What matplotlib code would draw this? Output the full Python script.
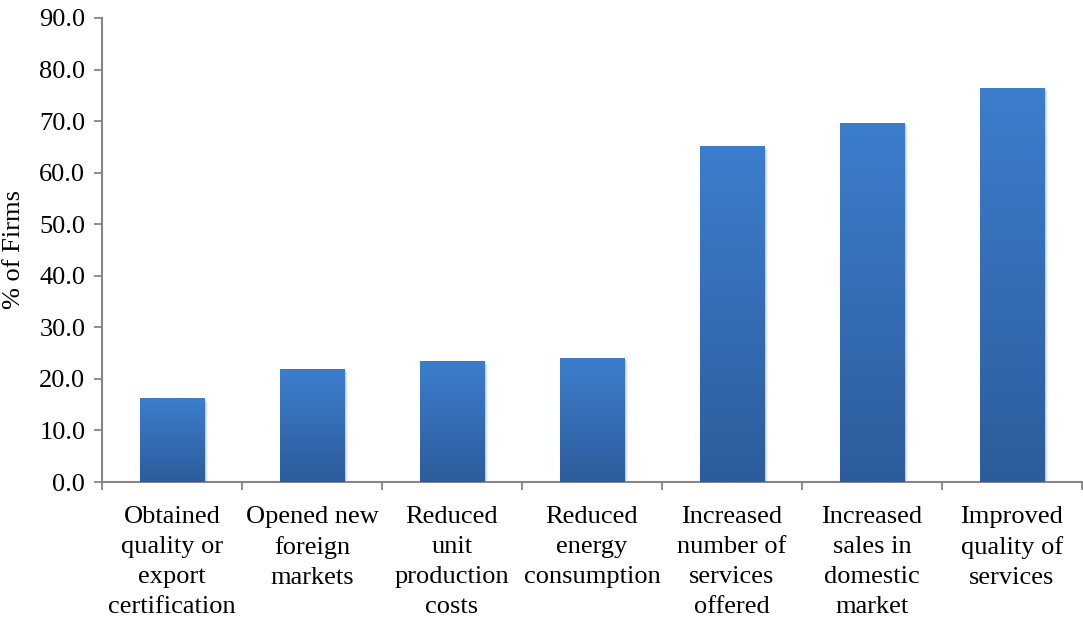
import numpy as np
import matplotlib
matplotlib.use("Agg")
import matplotlib.pyplot as plt
from matplotlib import transforms
from matplotlib.colors import LinearSegmentedColormap

categories = [
    "Obtained\nquality or\nexport\ncertification",
    "Opened new\nforeign\nmarkets",
    "Reduced\nunit\nproduction\ncosts",
    "Reduced\nenergy\nconsumption",
    "Increased\nnumber of\nservices\noffered",
    "Increased\nsales in\ndomestic\nmarket",
    "Improved\nquality of\nservices",
]
values = [16.1, 21.9, 23.3, 24.0, 65.0, 69.6, 76.4]
yticks = [0, 10, 20, 30, 40, 50, 60, 70, 80, 90]

plt.rcParams['font.family'] = ['Liberation Serif', 'DejaVu Serif']

fig = plt.figure(figsize=(10.83, 6.19), dpi=100)
ax = fig.add_axes([0.0942, 0.2213, 0.9048, 0.7497])

x = np.arange(len(categories))
width = 0.46
bars = ax.bar(x, values, width=width, color='none', edgecolor='none', zorder=3)

cmap = LinearSegmentedColormap.from_list('blue_grad', ['#2d5c9b', '#3c7ecd'])
grad = np.linspace(0, 1, 256).reshape(-1, 1)

for b in bars:
    x0, y0 = b.get_x(), b.get_y()
    w, h = b.get_width(), b.get_height()
    # soft shadow
    for i, a in enumerate([0.10, 0.07, 0.04]):
        off = transforms.offset_copy(ax.transData, fig=fig, x=1.5 + i, y=-1.0 - i, units='dots')
        ax.add_patch(plt.Rectangle((x0, y0), w, h, facecolor='#000000', alpha=a,
                                   edgecolor='none', transform=off, zorder=2))
    ax.imshow(grad, cmap=cmap, origin='lower', aspect='auto',
              extent=(x0, x0 + w, y0, y0 + h), zorder=4)

ax.set_xlim(-0.5, len(categories) - 0.5)
ax.set_ylim(0, 90)

ax.set_yticks(yticks)
ax.set_yticklabels([f"{v:.1f}" for v in yticks], fontsize=19)
ax.set_xticks(x)
ax.set_xticklabels(categories, fontsize=19, linespacing=1.48)
ax.tick_params(axis='x', length=0, pad=17)
ax.set_xticks(np.arange(-0.5, len(categories)), minor=True)
ax.tick_params(axis='x', which='minor', length=6, color='#868686', width=1.3)
ax.tick_params(axis='y', length=6, color='#868686', width=1.3, pad=6)

for s in ['top', 'right']:
    ax.spines[s].set_visible(False)
for s in ['left', 'bottom']:
    ax.spines[s].set_color('#868686')
    ax.spines[s].set_linewidth(1.5)

ax.set_ylabel('% of Firms', fontsize=19, labelpad=10)

fig.savefig('out.png', dpi=100)
